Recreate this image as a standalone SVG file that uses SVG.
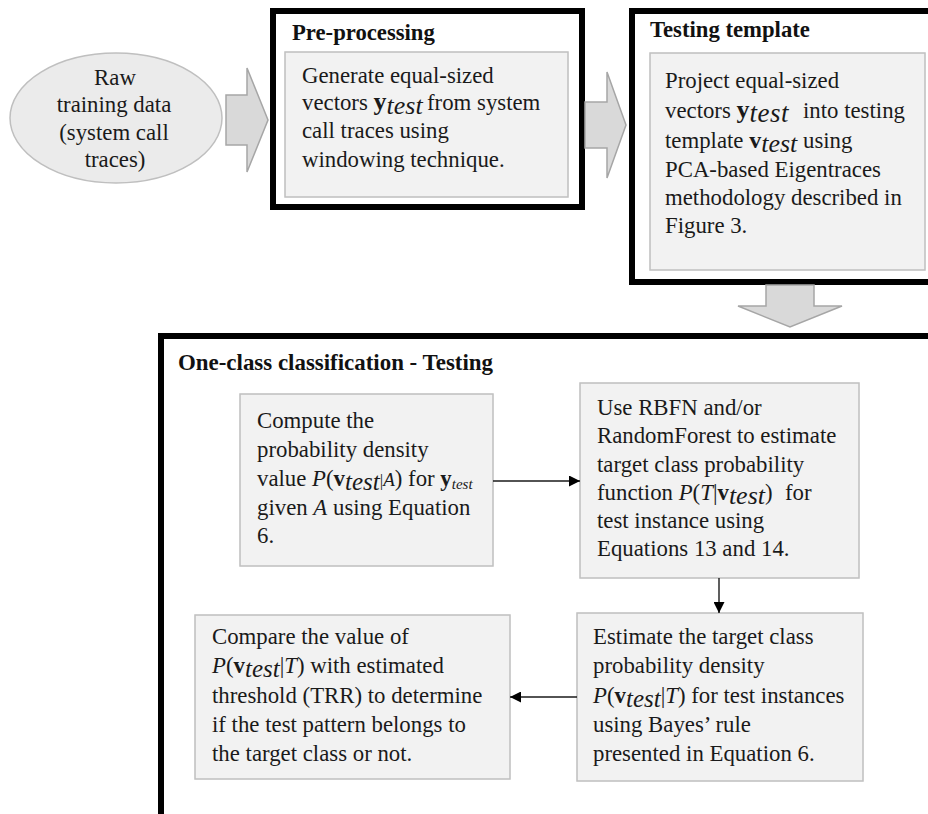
<svg xmlns="http://www.w3.org/2000/svg" width="928" height="814" viewBox="0 0 928 814">
<style>
.t{font-family:"Liberation Serif","Times New Roman",serif;font-size:22.8px;fill:#1a1a1a}
.h{font-family:"Liberation Serif","Times New Roman",serif;font-size:22.7px;font-weight:bold;fill:#111}
.b{font-weight:bold}
.i{font-style:italic}
.frame{fill:#fff;stroke:#000;stroke-width:6}
.box{fill:#f2f2f2;stroke:#bfbfbf;stroke-width:1.5}
.blk{fill:#d9d9d9;stroke:#a6a6a6;stroke-width:1.5;stroke-linejoin:miter}
.con{stroke:#1a1a1a;stroke-width:1.4;fill:none}
</style>
<defs>
<marker id="ah" viewBox="0 0 10 10" refX="10" refY="5" markerUnits="userSpaceOnUse" markerWidth="13" markerHeight="11" orient="auto">
<path d="M0,0 L10,5 L0,10 z" fill="#000"/>
</marker>
</defs>
<rect width="928" height="814" fill="#fff"/>

<g id="raw-data">
<ellipse cx="116" cy="118" rx="106" ry="65" fill="#ebebeb" stroke="#bfbfbf" stroke-width="1.5"/>
<text class="t" font-size="24" text-anchor="middle"><tspan x="115" y="85">Raw</tspan><tspan x="114" y="112">training data</tspan><tspan x="114" y="140">(system call</tspan><tspan x="115" y="167">traces)</tspan></text>
</g>

<g id="pre-processing">
<rect class="frame" x="273" y="11" width="309" height="196"/>
<text class="h" x="292" y="40">Pre-processing</text>
<rect class="box" x="285" y="52" width="283" height="145"/>
<text class="t"><tspan x="302" y="83">Generate equal-sized</tspan><tspan x="302" y="110">vectors </tspan><tspan class="b" font-size="26">y</tspan><tspan class="i" font-size="26" dy="4">test</tspan><tspan x="427" y="110">from system</tspan><tspan x="302" y="138">call traces using</tspan><tspan x="302" y="167">windowing technique.</tspan></text>
</g>

<g id="testing-template">
<rect class="frame" x="632" y="11" width="330" height="271"/>
<text class="h" x="650" y="37">Testing template</text>
<rect class="box" x="650" y="53" width="275" height="217"/>
<text class="t"><tspan x="665" y="88">Project equal-sized</tspan><tspan x="665" y="118">vectors </tspan><tspan class="b" font-size="26">y</tspan><tspan class="i" font-size="27" dy="4" letter-spacing="0.5">test</tspan><tspan x="803" y="118">into testing</tspan><tspan x="665" y="148">template </tspan><tspan class="b" font-size="24">v</tspan><tspan class="i" font-size="26" dy="4">test</tspan><tspan dy="-4"> using</tspan><tspan x="665" y="177">PCA-based Eigentraces</tspan><tspan x="665" y="205">methodology described in</tspan><tspan x="665" y="233">Figure 3.</tspan></text>
</g>

<g id="one-class-testing">
<rect class="frame" x="161" y="336" width="800" height="500"/>
<text class="h" x="178" y="370" font-size="25" textLength="315" lengthAdjust="spacingAndGlyphs">One-class classification - Testing</text>
</g>

<g id="compute-density">
<rect class="box" x="240" y="394" width="253" height="172"/>
<text class="t"><tspan x="257" y="428">Compute the</tspan><tspan x="257" y="457">probability density</tspan><tspan x="257" y="486">value </tspan><tspan class="i">P</tspan><tspan>(</tspan><tspan class="b">v</tspan><tspan class="i" font-size="25" dy="4">test</tspan><tspan font-size="17" dy="-4">|</tspan><tspan class="i" font-size="19">A</tspan><tspan>) for </tspan><tspan class="b">y</tspan><tspan class="i" font-size="15" dy="3">test</tspan><tspan x="257" y="515">given </tspan><tspan class="i">A</tspan><tspan> using Equation</tspan><tspan x="257" y="543">6.</tspan></text>
</g>

<g id="rbfn-randomforest">
<rect class="box" x="580" y="383" width="279" height="195"/>
<text class="t"><tspan x="597" y="415">Use RBFN and/or</tspan><tspan x="597" y="443">RandomForest to estimate</tspan><tspan x="597" y="472">target class probability</tspan><tspan x="597" y="500">function </tspan><tspan class="i">P</tspan><tspan>(</tspan><tspan class="i">T</tspan><tspan>|</tspan><tspan class="b">v</tspan><tspan class="i" font-size="26" dy="4">test</tspan><tspan dy="-4">)</tspan><tspan x="785" y="500">for</tspan><tspan x="597" y="528">test instance using</tspan><tspan x="597" y="556">Equations 13 and 14.</tspan></text>
</g>

<g id="estimate-density">
<rect class="box" x="577" y="613" width="286" height="168"/>
<text class="t"><tspan x="593" y="644">Estimate the target class</tspan><tspan x="593" y="673">probability density</tspan><tspan x="593" y="703" class="i">P</tspan><tspan>(</tspan><tspan class="b">v</tspan><tspan class="i" font-size="25" dy="4">test</tspan><tspan dy="-4">|</tspan><tspan class="i">T</tspan><tspan>) for test instances</tspan><tspan x="593" y="732">using Bayes’ rule</tspan><tspan x="593" y="761">presented in Equation 6.</tspan></text>
</g>

<g id="compare-threshold">
<rect class="box" x="195" y="615" width="315" height="164"/>
<text class="t"><tspan x="212" y="644">Compare the value of</tspan><tspan x="212" y="673" class="i">P</tspan><tspan>(</tspan><tspan class="b">v</tspan><tspan class="i" font-size="25" dy="4">test</tspan><tspan dy="-4">|</tspan><tspan class="i">T</tspan><tspan>) with estimated</tspan><tspan x="212" y="703">threshold (TRR) to determine</tspan><tspan x="212" y="732">if the test pattern belongs to</tspan><tspan x="212" y="761">the target class or not.</tspan></text>
</g>

<g id="connectors">
<polygon class="blk" points="226,95 247,95 247,68 268,120 247,172 247,145 226,145"/>
<polygon class="blk" points="585,102 607,102 607,72 626,125 607,178 607,148 585,148"/>
<polygon class="blk" points="766,285 814,285 814,306 842,306 790,327 738,306 766,306"/>
<line class="con" x1="493" y1="481" x2="580" y2="481" marker-end="url(#ah)"/>
<line class="con" x1="719" y1="578" x2="719" y2="613" marker-end="url(#ah)"/>
<line class="con" x1="577" y1="697" x2="510" y2="697" marker-end="url(#ah)"/>
</g>
</svg>
